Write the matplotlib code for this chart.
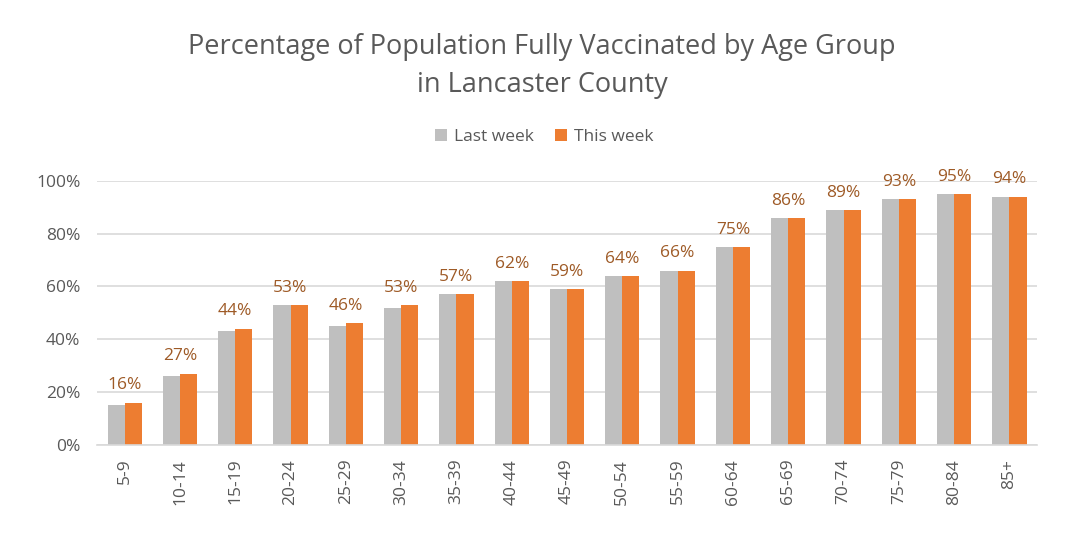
import matplotlib.pyplot as plt
import numpy as np
from matplotlib.ticker import FuncFormatter

# age groups and percent fully vaccinated
groups = ['5-9', '10-14', '15-19', '20-24', '25-29', '30-34', '35-39', '40-44',
          '45-49', '50-54', '55-59', '60-64', '65-69', '70-74', '75-79', '80-84', '85+']
last_week = [15, 26, 43, 53, 45, 52, 57, 62, 59, 64, 66, 75, 86, 89, 93, 95, 94]
this_week = [16, 27, 44, 53, 46, 53, 57, 62, 59, 64, 66, 75, 86, 89, 93, 95, 94]

plt.rcParams['font.family'] = ['Open Sans', 'DejaVu Sans']
gray = '#BFBFBF'
orange = '#ED7D31'
txt = '#595959'

fig = plt.figure(figsize=(10.78, 5.38), dpi=100)
ax = fig.add_axes([0.09, 0.173, 0.872, 0.491])

x = np.arange(len(groups))
w = 0.31
ax.bar(x - w / 2, last_week, w, color=gray, label='Last week', zorder=2)
ax.bar(x + w / 2, this_week, w, color=orange, label='This week', zorder=2)

for xi, v in zip(x, this_week):
    ax.text(xi, v + 3.5, '%d%%' % v, ha='center', va='bottom', fontsize=12.5,
            color='#9E5A26', clip_on=False)

ax.set_xlim(-0.5, len(groups) - 0.5)
ax.set_ylim(0, 100)
ax.set_yticks(np.arange(0, 101, 20))
ax.yaxis.set_major_formatter(FuncFormatter(lambda v, p: '%d%%' % v))
ax.set_xticks(x)
ax.set_xticklabels(groups, rotation=90)
ax.tick_params(axis='both', length=0, labelsize=12.5, labelcolor=txt)
ax.tick_params(axis='y', pad=12)
ax.tick_params(axis='x', pad=10)
ax.grid(axis='y', color='#D9D9D9', linewidth=1.2, zorder=0)
for s in ['top', 'right', 'left']:
    ax.spines[s].set_visible(False)
ax.spines['bottom'].set_color('#D9D9D9')
ax.spines['bottom'].set_linewidth(1.2)

fig.text(0.503, 0.877, 'Percentage of Population Fully Vaccinated by Age Group\nin Lancaster County',
         ha='center', va='center', fontsize=19.5, color=txt, linespacing=1.5)
fig.legend(loc='center', bbox_to_anchor=(0.505, 0.745), ncol=2, frameon=False,
           fontsize=12.5, labelcolor=txt, handlelength=0.7, handleheight=0.7,
           handletextpad=0.4, columnspacing=1.2)

fig.savefig('out.png', dpi=100)
